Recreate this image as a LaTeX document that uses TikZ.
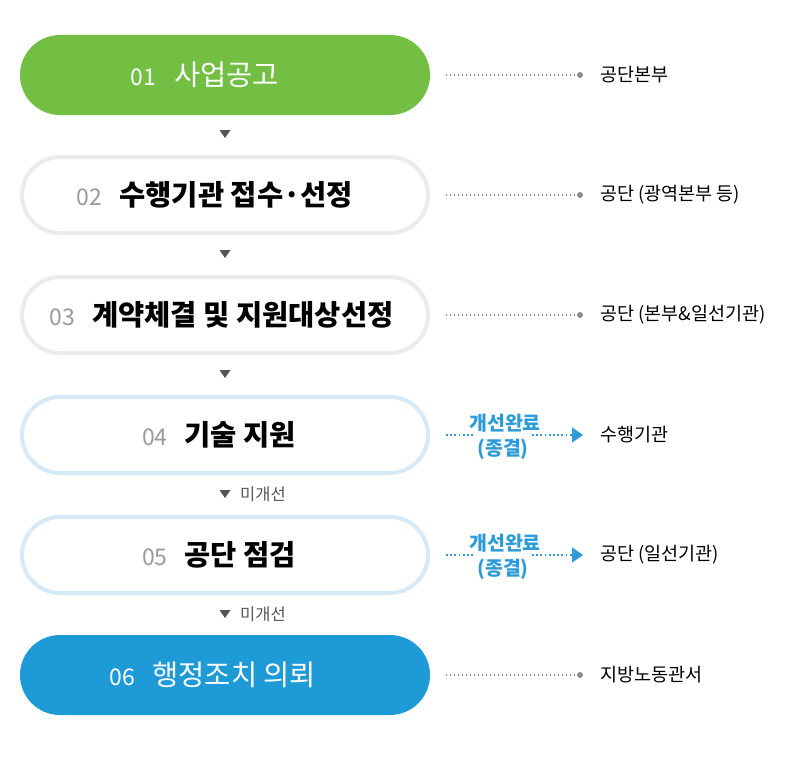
\documentclass[tikz,border=0pt]{standalone}
\usepackage{fontspec}
\setmainfont{Noto Sans CJK KR}
\usetikzlibrary{shapes.misc,calc,arrows.meta}
\definecolor{pgreen}{HTML}{72BF44}
\definecolor{pblue}{HTML}{1E9AD6}
\definecolor{ltgray}{HTML}{EBEBEB}
\definecolor{ltblue}{HTML}{D5EAF6}
\definecolor{numgray}{HTML}{9A9A9A}
\definecolor{txtblue}{HTML}{2E9BD8}
\definecolor{dkgray}{HTML}{555555}
\definecolor{dotgray}{HTML}{8A8A8A}
\newcommand{\numf}{\fontsize{23}{26}\selectfont}
\newcommand{\titf}{\fontsize{28.5}{32}\selectfont}
\begin{document}
\begin{tikzpicture}[x=1pt,y=-1pt,
  pill/.style={rounded rectangle, minimum width=406pt, minimum height=76pt, line width=4pt, inner sep=0pt},
  solidpill/.style={rounded rectangle, minimum width=410pt, minimum height=80pt, inner sep=0pt, draw=none},
  rlabel/.style={anchor=west, inner sep=0pt, font=\fontsize{18.5}{22}\selectfont, text=black},
  gdot/.style={circle, fill=dotgray, minimum size=6pt, inner sep=0pt},
  gline/.style={draw=dotgray, line width=1.2pt, dash pattern=on 1.2pt off 2.8pt},
  bline/.style={draw=txtblue, line width=1.8pt, dash pattern=on 1.8pt off 2.4pt},
  btip/.style={-{Triangle[length=11pt,width=15pt]}},
  blab/.style={inner sep=0pt, text=txtblue, font=\fontsize{19.5}{22}\selectfont\bfseries},
  downtri/.style={fill=dkgray},
  mlab/.style={anchor=west, inner sep=0pt, text=dkgray, font=\fontsize{16.5}{19}\selectfont}
]
\useasboundingbox (0,0) rectangle (800,760);

% pills
\node[solidpill, fill=pgreen] (p1) at (225,75)
  {\color{white}\numf 01\hspace{18pt}\titf 사업공고\kern40pt};
\node[pill, draw=ltgray, fill=white] (p2) at (225,195)
  {\numf\color{numgray}02\hspace{17pt}\color{black}\titf\bfseries 수행기관 접수·선정\kern20pt};
\node[pill, draw=ltgray, fill=white] (p3) at (225,315)
  {\numf\color{numgray}03\hspace{17pt}\color{black}\titf\bfseries 계약체결 및 지원대상선정\kern7pt};
\node[pill, draw=ltblue, fill=white] (p4) at (225,435)
  {\numf\color{numgray}04\hspace{17pt}\color{black}\titf\bfseries 기술 지원\kern12pt};
\node[pill, draw=ltblue, fill=white] (p5) at (225,555)
  {\numf\color{numgray}05\hspace{17pt}\color{black}\titf\bfseries 공단 점검\kern12pt};
\node[solidpill, fill=pblue] (p6) at (225,675)
  {\color{white}\numf 06\hspace{17pt}\titf 행정조치 의뢰\kern24pt};

% down markers
\foreach \yy in {134,254,374,494,614}{
  \fill[downtri] (219.5,\yy-4) -- (230.5,\yy-4) -- (225,\yy+4) -- cycle;
}
\node[mlab] (m4) at (240,494) {미개선};
\node[mlab] (m5) at (240,614) {미개선};

% right side gray connectors
\foreach \i/\yy/\txt in {1/75/{공단본부},2/195/{공단 (광역본부 등)},3/315/{공단 (본부\&일선기관)},6/675/{지방노동관서}}{
  \node[gdot] (d\i) at (580,\yy) {};
  \node[rlabel] (l\i) at (600,\yy) {\txt};
  \draw[gline] ($(p\i.east)+(16,0)$) -- (d\i.west);
}

% right side blue connectors
\foreach \i/\yy/\txt in {4/435/{수행기관},5/555/{공단 (일선기관)}}{
  \node[rlabel] (l\i) at (600,\yy) {\txt};
  \node[blab] (bt\i) at (505,\yy-12) {개선완료};
  \node[blab] (bb\i) at (503,\yy+14) {(종결)};
  \coordinate (bc\i) at (502,\yy);
  \draw[bline] ($(p\i.east)+(16,0)$) -- ($(bc\i)+(-29,0)$);
  \draw[bline, btip] ($(bc\i)+(30,0)$) -- ($(l\i.west)+(-17,0)$);
}
\end{tikzpicture}
\end{document}
